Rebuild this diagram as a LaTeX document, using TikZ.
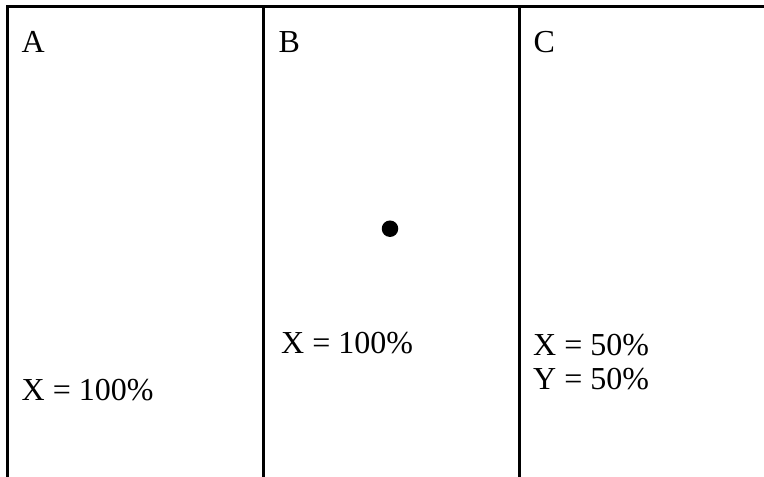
\documentclass[tikz,border=0pt]{standalone}
\usepackage{fontspec}
\setmainfont{Liberation Serif}
\begin{document}
\begin{tikzpicture}[x=1pt,y=-1pt,
  rule/.style={line width=3pt, black},
  lbl/.style={anchor=base west, inner sep=0pt, font=\fontsize{32}{34}\selectfont},
  dot/.style={circle, fill=black, inner sep=0pt, minimum size=16.5pt}]
\useasboundingbox (0,0) rectangle (764,477);
\coordinate (tl) at (6,6.5);
\coordinate (tr) at (764,6.5);
\coordinate (a0) at (7.5,6.5);
\coordinate (a1) at (7.5,477);
\coordinate (b0) at (263.5,6.5);
\coordinate (b1) at (263.5,477);
\coordinate (c0) at (519.5,6.5);
\coordinate (c1) at (519.5,477);
\draw[rule] (tl) -- (tr);
\draw[rule] (a0) -- (a1);
\draw[rule] (b0) -- (b1);
\draw[rule] (c0) -- (c1);
\node[lbl] (A) at (21.5,52) {A};
\node[lbl] (B) at (278.5,52) {B};
\node[lbl] (C) at (533.5,52) {C};
\node[lbl] (ax) at (21.5,400) {X = 100\%};
\node[lbl] (bx) at (281,353.5) {X = 100\%};
\node[lbl] (cx) at (533,355) {X = 50\%};
\node[lbl] (cy) at (533,389) {Y = 50\%};
\node[dot] (d) at (390,228.7) {};
\end{tikzpicture}
\end{document}
